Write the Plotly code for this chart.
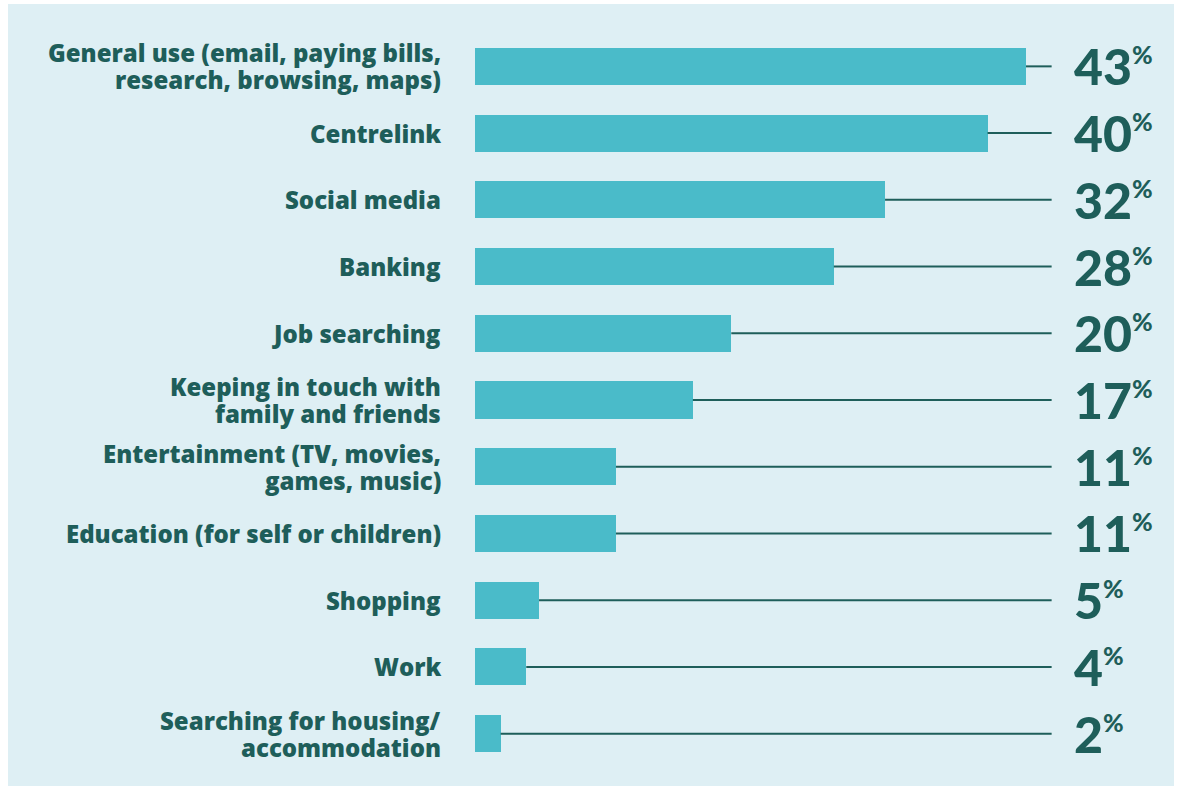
import plotly.graph_objects as go

# Share of respondents using the internet for each purpose (%)
categories = [
    "General use (email, paying bills,<br>research, browsing, maps)",
    "Centrelink",
    "Social media",
    "Banking",
    "Job searching",
    "Keeping in touch with<br>family and friends",
    "Entertainment (TV, movies,<br>games, music)",
    "Education (for self or children)",
    "Shopping",
    "Work",
    "Searching for housing/<br>accommodation",
]
values = [43, 40, 32, 28, 20, 17, 11, 11, 5, 4, 2]

BAR = "#4ABBC9"
INK = "#1E5E5A"
PANEL = "#DEEFF4"
LABEL_FONT = "Open Sans"
VALUE_FONT = "Lato"

W, H = 1178, 787
ML, MR, MT, MB = 475, 4, 33, 20
X_MAX = 54.55          # right end of the value axis
LINE_END = 45.0        # leader lines stop here
LABEL_X = 46.6         # value labels start here
LINE_STEP = 27         # px between wrapped label lines
LABEL_GAP = 32         # px between category labels and bars

fig = go.Figure()

fig.add_trace(go.Bar(
    x=values,
    y=categories,
    orientation="h",
    marker=dict(color=BAR, line=dict(width=0)),
    width=0.555,
    hoverinfo="x",
))

# background panel
pw = W - ML - MR
ph = H - MT - MB
fig.add_shape(
    type="rect", xref="paper", yref="paper", layer="below",
    x0=(8 - ML) / pw, x1=(1174 - ML) / pw,
    y0=(H - MB - 786) / ph, y1=(H - MB - 4) / ph,
    fillcolor=PANEL, line=dict(width=0),
)

for cat, v in zip(categories, values):
    # leader line from the bar end to the value label
    fig.add_shape(
        type="line", xref="x", yref="y",
        x0=v, x1=LINE_END, y0=cat, y1=cat,
        line=dict(color=INK, width=2),
        layer="above",
    )
    fig.add_annotation(
        x=LABEL_X, y=cat, xref="x", yref="y",
        xanchor="left", yanchor="middle",
        text=f"{v}<sup><span style='font-size:25px'>%</span></sup>",
        showarrow=False,
        font=dict(family=VALUE_FONT, size=50, color=INK, weight=900),
    )
    # category label, one annotation per wrapped line
    lines = cat.split("<br>")
    n = len(lines)
    for i, line in enumerate(lines):
        fig.add_annotation(
            x=0, y=cat, xref="paper", yref="y",
            xanchor="right", yanchor="middle",
            xshift=-LABEL_GAP,
            yshift=((n - 1) / 2 - i) * LINE_STEP,
            text=line, showarrow=False,
            font=dict(family=LABEL_FONT, size=24, color=INK, weight=800),
        )

fig.update_layout(
    width=W, height=H,
    margin=dict(l=ML, r=MR, t=MT, b=MB),
    paper_bgcolor="white",
    plot_bgcolor="rgba(0,0,0,0)",
    showlegend=False,
    bargap=0,
)
fig.update_xaxes(range=[0, X_MAX], visible=False, fixedrange=True)
fig.update_yaxes(
    autorange="reversed",
    showgrid=False, zeroline=False, showline=False,
    ticks="", showticklabels=False,
    fixedrange=True,
)

fig.write_html("out.html")
